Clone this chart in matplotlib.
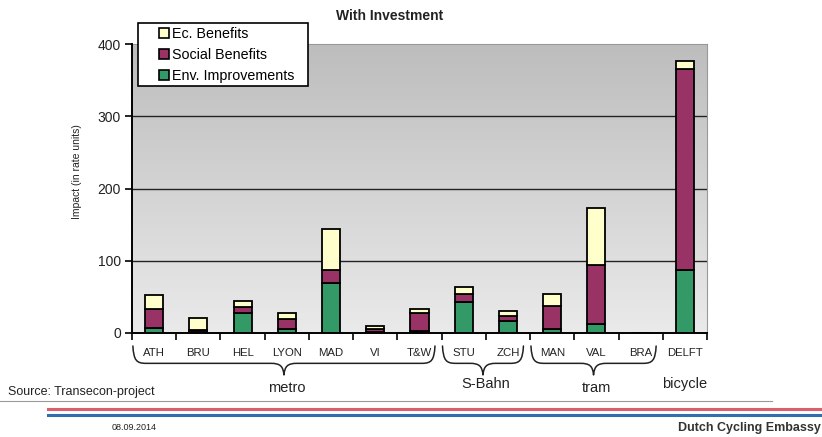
import numpy as np
import matplotlib
matplotlib.use("Agg")
import matplotlib.pyplot as plt
from matplotlib.path import Path
from matplotlib.patches import PathPatch, Patch, Rectangle
import matplotlib.transforms as mtransforms
from matplotlib.colors import LinearSegmentedColormap

plt.rcParams['font.family'] = ['Liberation Sans', 'DejaVu Sans']

categories = ["ATH", "BRU", "HEL", "LYON", "MAD", "VI", "T&W", "STU", "ZCH", "MAN", "VAL", "BRA", "DELFT"]
env_improvements = [7, 1, 27, 6, 69, 2, 3, 43, 17, 6, 12, 0, 87]
social_benefits = [26, 3, 9, 13, 18, 3, 24, 11, 7, 31, 82, 0, 278]
ec_benefits = [19, 17, 8, 9, 57, 5, 6, 10, 7, 17, 79, 0, 11]
series_labels = ["Ec. Benefits", "Social Benefits", "Env. Improvements"]
groups = [("metro", 0, 6), ("S-Bahn", 7, 8), ("tram", 9, 11), ("bicycle", 12, 12)]
yticks = [0, 100, 200, 300, 400]

c_ec = "#FFFFCC"
c_soc = "#993366"
c_env = "#339966"

W, H = 822, 437
fig = plt.figure(figsize=(W / 100, H / 100), dpi=100)
ax = fig.add_axes([132 / W, 1 - 333 / H, (707 - 132) / W, (333 - 44) / H])

n = len(categories)
x = np.arange(n)
ax.set_xlim(-0.5, n - 0.5)
ax.set_ylim(0, 400)

# gradient background
grad = np.linspace(0, 1, 256).reshape(-1, 1)
cm = LinearSegmentedColormap.from_list("bg", ["#eaeaea", "#bdbdbd"])
ax.imshow(grad, extent=[0, 1, 0, 1], transform=ax.transAxes, aspect='auto',
          cmap=cm, origin='lower', zorder=0)

for yv in yticks[1:-1]:
    ax.axhline(yv, color="#222222", lw=1.0, zorder=1)

env = np.array(env_improvements)
soc = np.array(social_benefits)
ec = np.array(ec_benefits)
bw = 0.41
kw = dict(width=bw, edgecolor="black", linewidth=1.3, zorder=3)
ax.bar(x, env, color=c_env, **kw)
ax.bar(x, soc, bottom=env, color=c_soc, **kw)
ax.bar(x, ec, bottom=env + soc, color=c_ec, **kw)

for s in ["top", "right"]:
    ax.spines[s].set_color("#999999")
    ax.spines[s].set_linewidth(0.8)
for s in ["left", "bottom"]:
    ax.spines[s].set_color("black")
    ax.spines[s].set_linewidth(1.4)
    ax.spines[s].set_zorder(4)

ax.set_yticks(yticks)
ax.set_yticklabels([str(v) for v in yticks], fontsize=10, color="#222222")
ax.tick_params(axis='y', direction='out', length=5, width=1.2, pad=3)

ax.set_xticks(x)
ax.set_xticklabels(categories, fontsize=8.2, color="#222222")
ax.set_xticks(np.arange(n + 1) - 0.5, minor=True)
ax.tick_params(axis='x', which='major', length=0, pad=11)
ax.tick_params(axis='x', which='minor', direction='out', length=5, width=1.2)

# braces
trans = mtransforms.blended_transform_factory(ax.transData, ax.transAxes)
def brace(x0, x1, ytop=-0.045, ybot=-0.145):
    xm = (x0 + x1) / 2
    ymid = -0.105
    r = 0.3
    verts = [
        (x0, ytop),
        (x0 + 0.02, ymid + 0.01), (x0 + 0.08, ymid), (x0 + r, ymid),
        (xm - r, ymid),
        (xm - 0.08, ymid), (xm - 0.02, ymid - 0.01), (xm, ybot),
        (xm + 0.02, ymid - 0.01), (xm + 0.08, ymid), (xm + r, ymid),
        (x1 - r, ymid),
        (x1 - 0.08, ymid), (x1 - 0.02, ymid + 0.01), (x1, ytop),
    ]
    codes = [Path.MOVETO,
             Path.CURVE4, Path.CURVE4, Path.CURVE4,
             Path.LINETO,
             Path.CURVE4, Path.CURVE4, Path.CURVE4,
             Path.CURVE4, Path.CURVE4, Path.CURVE4,
             Path.LINETO,
             Path.CURVE4, Path.CURVE4, Path.CURVE4]
    p = PathPatch(Path(verts, codes), transform=trans, fill=False,
                  edgecolor="#222222", lw=1.1, clip_on=False, capstyle='round',
                  joinstyle='round')
    ax.add_patch(p)

label_y = {"metro": -0.19, "S-Bahn": -0.175, "tram": -0.19, "bicycle": -0.175}
for name, i0, i1 in groups:
    if i1 > i0:
        brace(i0 - 0.5 + 0.02, i1 + 0.5 - 0.15)
    xc = (i0 + i1) / 2
    ax.text(xc, label_y[name], name, transform=trans, ha='center', va='center',
            fontsize=10.5, color="#222222")

# legend
handles = [Patch(facecolor=c_ec, edgecolor="black", lw=1.2),
           Patch(facecolor=c_soc, edgecolor="black", lw=1.2),
           Patch(facecolor=c_env, edgecolor="black", lw=1.2)]
fig.add_artist(Rectangle((138 / W, 1 - 86 / H), 170 / W, 63 / H,
                         transform=fig.transFigure, facecolor="white",
                         edgecolor="black", lw=1.2, zorder=9))
leg = fig.legend(handles, series_labels, loc='upper left',
                 bbox_to_anchor=(158 / W, 1 - 25.5 / H), bbox_transform=fig.transFigure,
                 fontsize=10.3, frameon=False, handlelength=0.65, handleheight=0.65,
                 handletextpad=0.25, labelspacing=0.5, borderpad=0.1, borderaxespad=0)
leg.set_zorder(10)

fig.text(390 / W, 1 - 16 / H, "With Investment", ha='center', va='center',
         fontsize=10, fontweight='bold', color="#222222")
fig.text(77 / W, 1 - 172 / H, "Impact (in rate units)", rotation=90,
         ha='center', va='center', fontsize=7.5, color="#222222")

# footer
fig.text(8 / W, 1 - 392 / H, "Source: Transecon-project", ha='left', va='center',
         fontsize=9, color="#222222")
fig.add_artist(plt.Line2D([0, 772 / W], [1 - 401 / H] * 2, color="#999999", lw=0.8,
                          transform=fig.transFigure))
fig.add_artist(plt.Line2D([48 / W, 1], [1 - 408.5 / H] * 2, color="#d9606a", lw=2.2,
                          transform=fig.transFigure))
fig.add_artist(plt.Line2D([48 / W, 1], [1 - 414.5 / H] * 2, color="#2f6fae", lw=2.2,
                          transform=fig.transFigure))
fig.text(134 / W, 1 - 428 / H, "08.09.2014", ha='center', va='center',
         fontsize=6.5, color="#222222")
fig.text(821 / W, 1 - 428 / H, "Dutch Cycling Embassy", ha='right', va='center',
         fontsize=9, fontweight='bold', color="#333333")

fig.savefig("out.png", dpi=100)
